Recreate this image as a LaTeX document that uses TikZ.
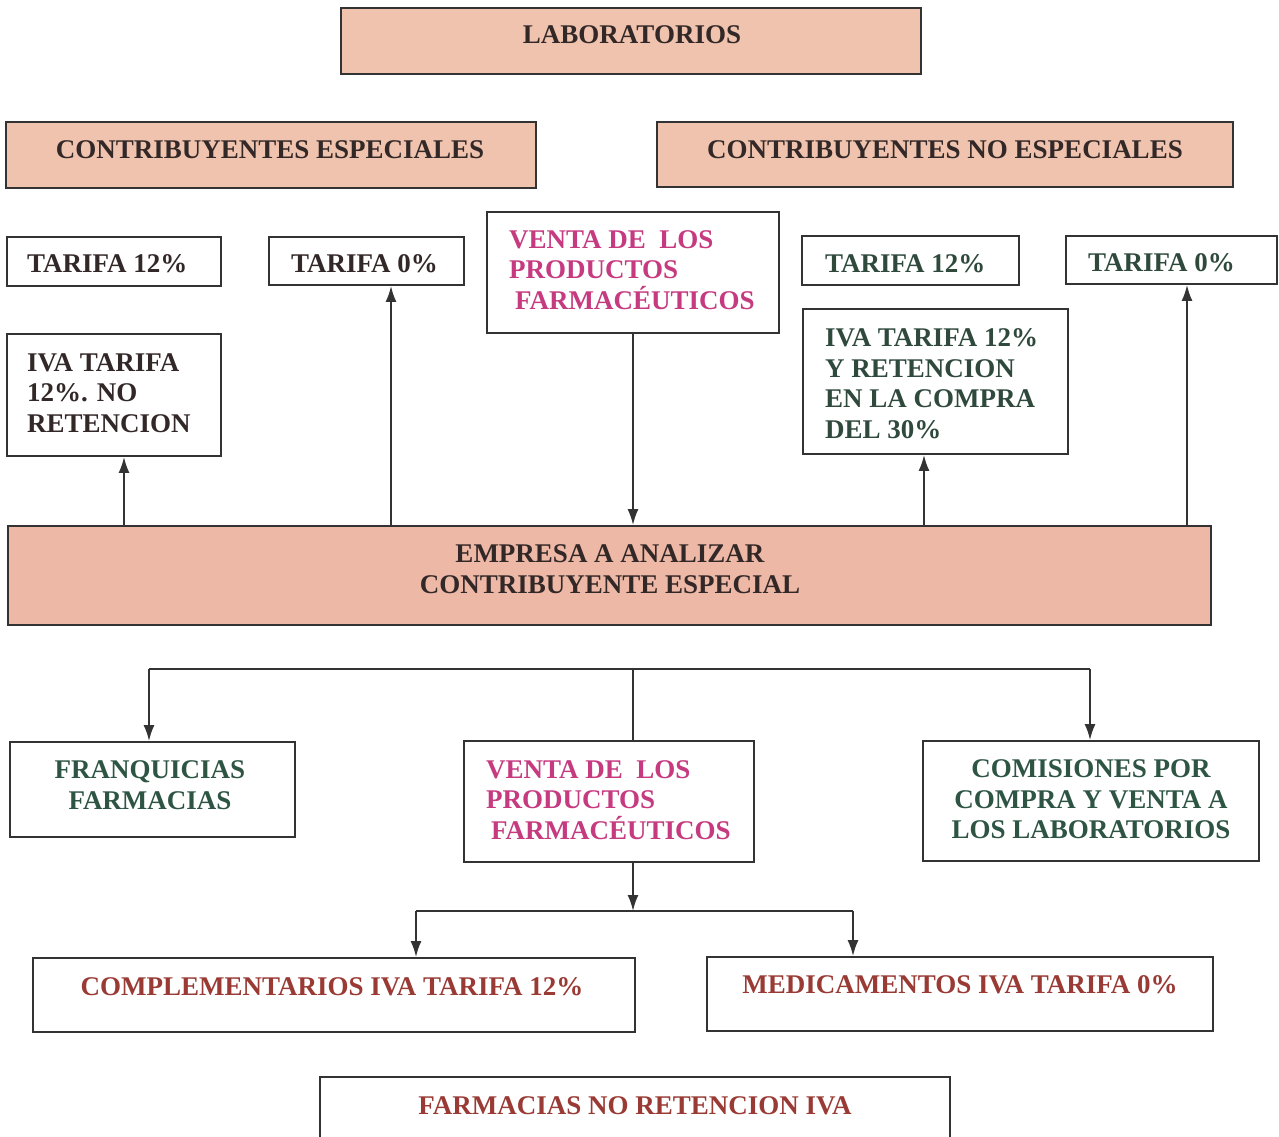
\documentclass[tikz,border=0pt]{standalone}
\usepackage{fontspec}
\setmainfont{Liberation Serif}
\usetikzlibrary{arrows.meta}
\definecolor{salmon}{HTML}{EFC3AD}
\definecolor{salmonD}{HTML}{EDB8A5}
\definecolor{edge}{HTML}{333333}
\definecolor{txtD}{HTML}{332828}
\definecolor{txtG}{HTML}{2F4A3D}
\definecolor{txtGr}{HTML}{2E5544}
\definecolor{txtM}{HTML}{C63A80}
\definecolor{txtB}{HTML}{9A3A35}
\tikzset{
  box/.style={draw=edge, line width=1.8pt, rectangle, inner sep=0pt},
  fbox/.style={box, fill=salmon},
  lbl/.style={inner sep=0pt, font=\fontsize{27}{30.5}\selectfont\bfseries},
  arr/.style={draw=edge, line width=2pt, -{Latex[length=16pt,width=11pt]}},
  ln/.style={draw=edge, line width=2pt}
}
\begin{document}
\begin{tikzpicture}[x=1pt,y=-1pt]
\useasboundingbox (0,0) rectangle (1279,1136);
\fill[white] (0,0) rectangle (1279,1136);
% boxes
\node[fbox, minimum width=580pt, minimum height=66pt] (lab) at (631,41) {};
\node[fbox, minimum width=530pt, minimum height=66pt] (ce) at (271,155) {};
\node[fbox, minimum width=576pt, minimum height=65pt] (cne) at (945,154.5) {};
\node[box, minimum width=214pt, minimum height=49pt] (t12L) at (114,261.5) {};
\node[box, minimum width=195pt, minimum height=48pt] (t0L) at (366.5,261) {};
\node[box, minimum width=292pt, minimum height=121pt] (ventaT) at (633,272.5) {};
\node[box, minimum width=217pt, minimum height=49pt] (t12R) at (910.5,260.5) {};
\node[box, minimum width=211pt, minimum height=48pt] (t0R) at (1171.5,260) {};
\node[box, minimum width=214pt, minimum height=122pt] (ivaL) at (114,395) {};
\node[box, minimum width=265pt, minimum height=145pt] (ivaR) at (935.5,381.5) {};
\node[box, fill=salmonD, minimum width=1203pt, minimum height=99pt] (emp) at (609.5,575.5) {};
\node[box, minimum width=285pt, minimum height=95pt] (fr) at (152.5,789.5) {};
\node[box, minimum width=290pt, minimum height=121pt] (ventaM) at (609,801.5) {};
\node[box, minimum width=336pt, minimum height=120pt] (com) at (1091,801) {};
\node[box, minimum width=602pt, minimum height=74pt] (compl) at (334,995) {};
\node[box, minimum width=506pt, minimum height=74pt] (med) at (960,994) {};
\node[box, minimum width=630pt, minimum height=66pt] (farm) at (635,1110) {};
% texts
\node[lbl, text=txtD] (tlab) at (632,35) {LABORATORIOS};
\node[lbl, text=txtD] (tce) at (270,150) {CONTRIBUYENTES ESPECIALES};
\node[lbl, text=txtD] (tcne) at (945,150) {CONTRIBUYENTES NO ESPECIALES};
\node[lbl, text=txtD, anchor=west] (tt12L) at (27,264) {TARIFA 12\%};
\node[lbl, text=txtD, anchor=west] (tt0L) at (291,264) {TARIFA 0\%};
\node[lbl, text=txtM, anchor=west, align=left] (tventaT) at (509,270) {VENTA DE \ LOS\\PRODUCTOS\\\hspace*{6pt}FARMACÉUTICOS};
\node[lbl, text=txtG, anchor=west] (tt12R) at (825,264) {TARIFA 12\%};
\node[lbl, text=txtG, anchor=west] (tt0R) at (1088,263) {TARIFA 0\%};
\node[lbl, text=txtD, anchor=west, align=left] (tivaL) at (27,393) {IVA TARIFA\\12\%. NO\\RETENCION};
\node[lbl, text=txtG, anchor=west, align=left] (tivaR) at (825,383.5) {IVA TARIFA 12\%\\Y RETENCION\\EN LA COMPRA\\DEL 30\%};
\node[lbl, text=txtD, align=center] (temp) at (610,569) {EMPRESA A ANALIZAR\\CONTRIBUYENTE ESPECIAL};
\node[lbl, text=txtGr, align=center] (tfr) at (150,785) {FRANQUICIAS\\FARMACIAS};
\node[lbl, text=txtM, anchor=west, align=left] (tventaM) at (486,800) {VENTA DE \ LOS\\PRODUCTOS\\\hspace*{5pt}FARMACÉUTICOS};
\node[lbl, text=txtGr, align=center] (tcom) at (1091,799.5) {COMISIONES POR\\COMPRA Y VENTA A\\LOS LABORATORIOS};
\node[lbl, text=txtB] (tcompl) at (332,987) {COMPLEMENTARIOS IVA TARIFA 12\%};
\node[lbl, text=txtB] (tmed) at (960,985) {MEDICAMENTOS IVA TARIFA 0\%};
\node[lbl, text=txtB] (tfarm) at (635,1106) {FARMACIAS NO RETENCION IVA};
% connector guide coordinates
\coordinate (x124) at (124,0);
\coordinate (x391) at (391,0);
\coordinate (x924) at (924,0);
\coordinate (x1187) at (1187,0);
\coordinate (hub) at (633,669);
\coordinate (hL) at (149,669);
\coordinate (hR) at (1090,669);
\coordinate (hub2) at (633,911);
\coordinate (bL) at (416,911);
\coordinate (bR) at (853,911);
% upper connectors
\draw[arr] (emp.north -| x124) -- (ivaL.south -| x124);
\draw[arr] (emp.north -| x391) -- (t0L.south -| x391);
\draw[arr] (ventaT.south) -- (ventaT.south |- emp.north);
\draw[arr] (emp.north -| x924) -- (ivaR.south -| x924);
\draw[arr] (emp.north -| x1187) -- (t0R.south -| x1187);
% lower tree
\draw[ln] (hL) -- (hR);
\draw[ln] (hub) -- (hub |- ventaM.north);
\draw[arr] (hL) -- (hL |- fr.north);
\draw[arr] (hR) -- (hR |- com.north);
\draw[arr] (ventaM.south -| hub2) -- (hub2);
\draw[ln] (bL) -- (bR);
\draw[arr] (bL) -- (bL |- compl.north);
\draw[arr] (bR) -- (bR |- med.north);
\end{tikzpicture}
\end{document}
